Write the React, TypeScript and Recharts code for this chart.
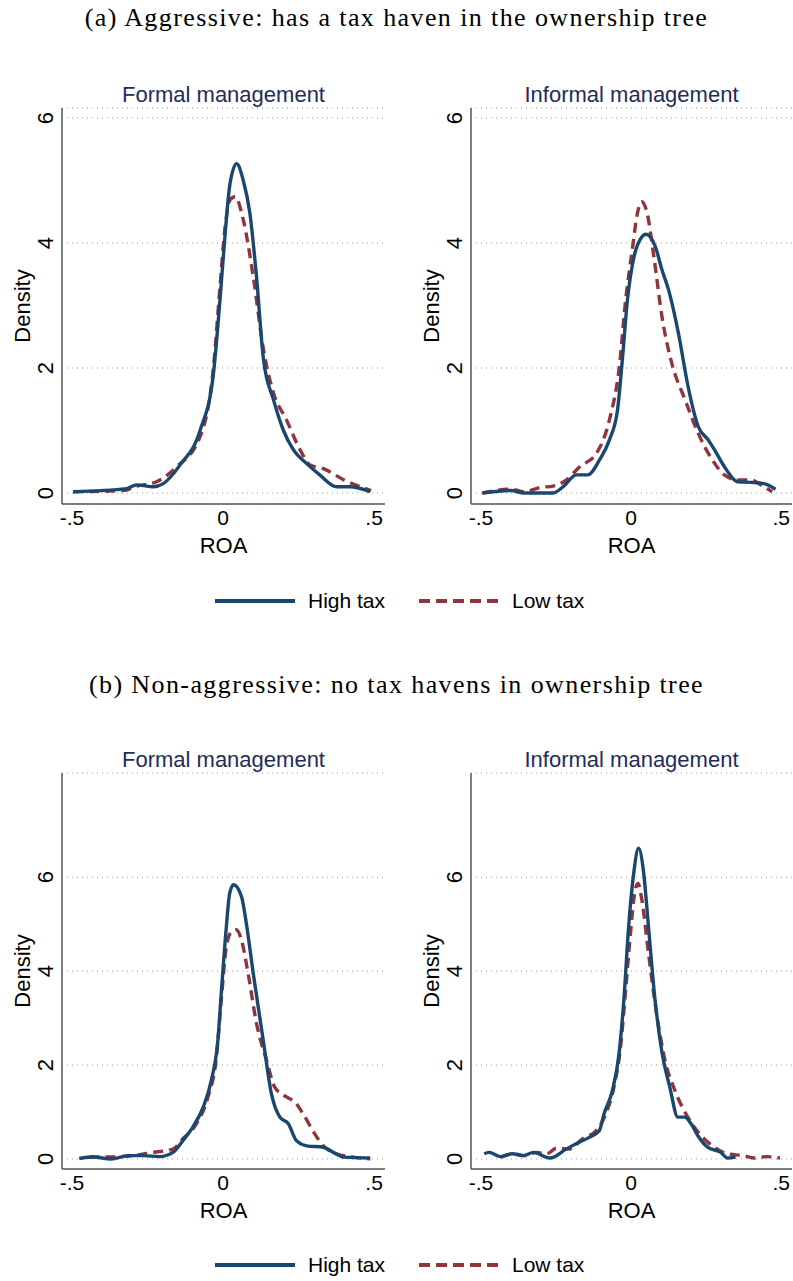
import React from 'react';
import { LineChart, Line, XAxis, YAxis, CartesianGrid } from 'recharts';

// [ROA, density] pairs
const aFormalHigh = [
  [-0.496, 0.02], [-0.32, 0.07], [-0.286, 0.13], [-0.23, 0.1], [-0.198, 0.15], [-0.142, 0.45],
  [-0.076, 1.0], [-0.032, 1.9], [-0.01, 3.1], [0.007, 4.15], [0.023, 4.95], [0.045, 5.27],
  [0.067, 5.0], [0.089, 4.47], [0.11, 3.5], [0.134, 2.13], [0.167, 1.49], [0.2, 1.0],
  [0.233, 0.69], [0.277, 0.47], [0.32, 0.29], [0.376, 0.1], [0.42, 0.1], [0.487, 0.02],
];
const aFormalLow = [
  [-0.496, 0.02], [-0.33, 0.04], [-0.286, 0.11], [-0.22, 0.18], [-0.153, 0.42], [-0.076, 0.9],
  [-0.032, 2.0], [-0.01, 3.3], [0.007, 4.26], [0.023, 4.69], [0.04, 4.74], [0.067, 4.37],
  [0.1, 3.46], [0.134, 2.29], [0.167, 1.6], [0.21, 1.17], [0.255, 0.69], [0.288, 0.45],
  [0.332, 0.39], [0.4, 0.21], [0.49, 0.04],
];
const aInformalHigh = [
  [-0.495, 0.0], [-0.4, 0.04], [-0.357, 0.0], [-0.3, 0.0], [-0.26, 0.0], [-0.226, 0.1],
  [-0.182, 0.29], [-0.144, 0.29], [-0.105, 0.53], [-0.072, 0.85], [-0.045, 1.33], [-0.029, 2.13],
  [-0.012, 3.09], [0.01, 3.78], [0.032, 4.07], [0.05, 4.14], [0.081, 3.94], [0.103, 3.57],
  [0.125, 3.25], [0.158, 2.55], [0.19, 1.7], [0.224, 1.06], [0.257, 0.85], [0.278, 0.69],
  [0.311, 0.42], [0.355, 0.18], [0.4, 0.17], [0.443, 0.15], [0.481, 0.06],
];
const aInformalLow = [
  [-0.495, 0.0], [-0.4, 0.06], [-0.357, 0.02], [-0.3, 0.09], [-0.26, 0.11], [-0.215, 0.21],
  [-0.171, 0.42], [-0.116, 0.63], [-0.072, 1.17], [-0.039, 2.02], [-0.018, 3.09], [0.004, 3.89],
  [0.021, 4.47], [0.035, 4.66], [0.054, 4.47], [0.076, 3.78], [0.103, 2.82], [0.136, 2.07],
  [0.18, 1.49], [0.224, 0.95], [0.268, 0.55], [0.311, 0.29], [0.355, 0.21], [0.4, 0.21],
  [0.432, 0.13], [0.47, 0.02],
];
const bFormalHigh = [
  [-0.476, 0.01], [-0.43, 0.04], [-0.37, 0.0], [-0.315, 0.07], [-0.265, 0.07], [-0.21, 0.05],
  [-0.166, 0.14], [-0.133, 0.39], [-0.1, 0.68], [-0.066, 1.1], [-0.039, 1.67], [-0.017, 2.53],
  [-0.006, 3.52], [0.011, 4.95], [0.022, 5.66], [0.035, 5.84], [0.061, 5.59], [0.077, 5.02],
  [0.1, 3.95], [0.133, 2.53], [0.16, 1.39], [0.188, 0.89], [0.216, 0.75], [0.243, 0.39],
  [0.277, 0.28], [0.332, 0.25], [0.365, 0.14], [0.398, 0.04], [0.487, 0.02],
];
const bFormalLow = [
  [-0.442, 0.04], [-0.376, 0.04], [-0.3, 0.07], [-0.232, 0.14], [-0.166, 0.21], [-0.133, 0.43],
  [-0.088, 0.75], [-0.05, 1.32], [-0.022, 2.17], [-0.006, 3.38], [0.011, 4.52], [0.028, 4.84],
  [0.044, 4.88], [0.061, 4.66], [0.083, 3.95], [0.111, 2.88], [0.144, 2.1], [0.171, 1.53],
  [0.21, 1.32], [0.238, 1.21], [0.265, 0.96], [0.3, 0.57], [0.332, 0.28], [0.376, 0.11],
  [0.431, 0.04], [0.487, 0.0],
];
const bInformalHigh = [
  [-0.489, 0.11], [-0.473, 0.14], [-0.434, 0.05], [-0.396, 0.11], [-0.358, 0.07], [-0.325, 0.14],
  [-0.27, 0.02], [-0.216, 0.21], [-0.172, 0.36], [-0.139, 0.46], [-0.106, 0.6], [-0.09, 0.96],
  [-0.062, 1.46], [-0.04, 2.24], [-0.024, 3.38], [-0.008, 4.95], [0.009, 6.09], [0.025, 6.62],
  [0.042, 6.09], [0.058, 4.95], [0.08, 3.38], [0.102, 2.31], [0.129, 1.53], [0.156, 0.89],
  [0.178, 0.89], [0.2, 0.75], [0.222, 0.5], [0.255, 0.25], [0.299, 0.14], [0.321, 0.02],
  [0.348, 0.04],
];
const bInformalLow = [
  [-0.434, 0.04], [-0.39, 0.11], [-0.358, 0.07], [-0.314, 0.14], [-0.281, 0.11], [-0.248, 0.23],
  [-0.205, 0.21], [-0.161, 0.43], [-0.117, 0.6], [-0.084, 0.96], [-0.057, 1.53], [-0.035, 2.38],
  [-0.019, 3.52], [-0.002, 4.8], [0.012, 5.66], [0.023, 5.87], [0.036, 5.52], [0.058, 4.38],
  [0.085, 3.1], [0.113, 2.1], [0.146, 1.46], [0.189, 0.89], [0.233, 0.5], [0.277, 0.25],
  [0.321, 0.11], [0.375, 0.07], [0.408, 0.02], [0.452, 0.05], [0.496, 0.02],
];

const xTicks = [-0.5, 0, 0.5];
const yTicks = [0, 2, 4, 6];
const panelTitles = ['Formal management', 'Informal management'];
const seriesNames = ['High tax', 'Low tax'];
const headers = [
  '(a) Aggressive: has a tax haven in the ownership tree',
  '(b) Non-aggressive: no tax havens in ownership tree',
];

const HIGH = '#1a476f';
const LOW = '#90353b';
const AXIS = '#555';
const SANS = '"Liberation Sans", Arial, sans-serif';

const toRows = (pts: number[][]) => pts.map(([roa, density]) => ({ roa, density }));
const fmtX = (v: number) => (v === 0 ? '0' : v < 0 ? '-' + String(Math.abs(v)).replace(/^0/, '') : String(v).replace(/^0/, ''));

const YTick = (props: any) => {
  const { x, y, payload } = props;
  const cx = x - 9;
  return (
    <text x={cx} y={y} transform={`rotate(-90, ${cx}, ${y})`} textAnchor="middle"
      fontSize={22} fontFamily={SANS} fill="#000">
      {payload.value}
    </text>
  );
};

const YLabel = (props: any) => {
  const { viewBox } = props;
  const cx = viewBox.x + viewBox.width - 40 + 8;
  const cy = viewBox.y + viewBox.height / 2;
  return (
    <text x={cx} y={cy} transform={`rotate(-90, ${cx}, ${cy})`} textAnchor="middle"
      fontSize={22} fontFamily={SANS} fill="#000">
      Density
    </text>
  );
};

interface PanelProps {
  left: number;
  top: number;
  width: number;
  yAxisWidth: number;
  marginRight: number;
  yDomain: [number, number];
  high: number[][];
  low: number[][];
  title: string;
}

const Panel: React.FC<PanelProps> = ({ left, top, width, yAxisWidth, marginRight, yDomain, high, low, title }) => {
  const plotLeft = yAxisWidth;
  const plotW = width - yAxisWidth - marginRight;
  return (
    <div style={{ position: 'absolute', left, top, width, height: 480 }}>
      <div style={{
        position: 'absolute', left: plotLeft, width: plotW, top: 2, textAlign: 'center',
        fontFamily: SANS, fontSize: 22, color: '#1e2d5a', whiteSpace: 'nowrap',
      }}>{title}</div>
      <LineChart width={width} height={480} margin={{ top: 28, right: marginRight, left: 0, bottom: 10 }}>
        <CartesianGrid horizontal vertical={false} stroke="#9a9a9a" strokeDasharray="1 4" />
        <XAxis type="number" dataKey="roa" domain={[-0.533, 0.536]} ticks={xTicks} allowDataOverflow
          height={46} tickLine={false} tickSize={0} tickMargin={6} stroke={AXIS} strokeWidth={1.5}
          tickFormatter={fmtX} tick={{ fontSize: 21, fontFamily: SANS, fill: '#000' }}
          label={{ value: 'ROA', position: 'insideBottom', offset: -3, fontSize: 22, fontFamily: SANS, fill: '#000' }} />
        <YAxis type="number" dataKey="density" domain={yDomain} ticks={yTicks} allowDataOverflow
          width={yAxisWidth} tickLine={false} tickSize={0} tickMargin={0} stroke={AXIS} strokeWidth={1.5}
          tick={<YTick />} label={<YLabel />} />
        <Line data={toRows(low)} dataKey="density" type="monotone" stroke={LOW} strokeWidth={3.4}
          strokeDasharray="10 6" dot={false} isAnimationActive={false} name={seriesNames[1]} />
        <Line data={toRows(high)} dataKey="density" type="monotone" stroke={HIGH} strokeWidth={3.4}
          dot={false} isAnimationActive={false} name={seriesNames[0]} />
      </LineChart>
    </div>
  );
};

const LegendRow: React.FC<{ top: number }> = ({ top }) => (
  <svg style={{ position: 'absolute', left: 0, top, width: 793, height: 30 }}>
    <line x1={215} x2={295} y1={15} y2={15} stroke={HIGH} strokeWidth={4} />
    <text x={308} y={22} fontSize={21} fontFamily={SANS} fill="#000">{seriesNames[0]}</text>
    <line x1={419} x2={499} y1={15} y2={15} stroke={LOW} strokeWidth={4} strokeDasharray="11 6" />
    <text x={512} y={22} fontSize={21} fontFamily={SANS} fill="#000">{seriesNames[1]}</text>
  </svg>
);

const Header: React.FC<{ top: number; text: string }> = ({ top, text }) => (
  <div style={{
    position: 'absolute', left: 0, width: 793, top, textAlign: 'center', whiteSpace: 'nowrap',
    fontFamily: '"Liberation Serif", "DejaVu Serif", serif', fontSize: 26, letterSpacing: 1.4, color: '#000',
  }}>{text}</div>
);

export default function App() {
  return (
    <div style={{ position: 'absolute', left: 0, top: 0, width: 793, height: 1281, background: '#fff' }}>
      <Header top={3} text={headers[0]} />
      <Panel left={0} top={80} width={400} yAxisWidth={62} marginRight={15} yDomain={[-0.176, 6.16]}
        high={aFormalHigh} low={aFormalLow} title={panelTitles[0]} />
      <Panel left={400} top={80} width={393} yAxisWidth={71} marginRight={1} yDomain={[-0.176, 6.16]}
        high={aInformalHigh} low={aInformalLow} title={panelTitles[1]} />
      <LegendRow top={586} />
      <Header top={670} text={headers[1]} />
      <Panel left={0} top={745} width={400} yAxisWidth={62} marginRight={15} yDomain={[-0.214, 8.22]}
        high={bFormalHigh} low={bFormalLow} title={panelTitles[0]} />
      <Panel left={400} top={745} width={393} yAxisWidth={71} marginRight={1} yDomain={[-0.214, 8.22]}
        high={bInformalHigh} low={bInformalLow} title={panelTitles[1]} />
      <LegendRow top={1250} />
    </div>
  );
}
